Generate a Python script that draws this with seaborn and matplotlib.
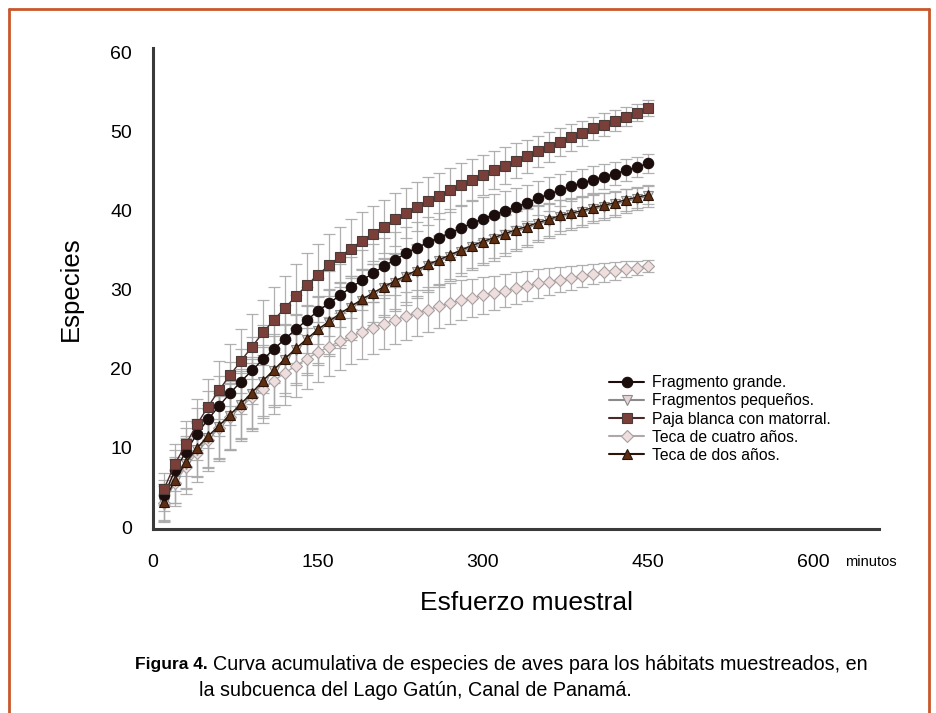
import matplotlib
matplotlib.use('Agg')
import matplotlib.pyplot as plt
from matplotlib.lines import Line2D
import pandas as pd
import seaborn as sns

sns.set_style("white")
plt.rcParams['font.family'] = ['Liberation Sans', 'DejaVu Sans']
plt.rcParams['text.color'] = 'black'
plt.rcParams['axes.labelcolor'] = 'black'
plt.rcParams['xtick.color'] = 'black'
plt.rcParams['ytick.color'] = 'black'

# minutos de esfuerzo (cada 10 min)
minutos = list(range(10, 451, 10))

grande = [4.0, 7.2, 9.5, 11.8, 13.6, 15.3, 16.9, 18.4, 19.8, 21.2, 22.5, 23.8, 25.0, 26.2, 27.3,
          28.3, 29.3, 30.3, 31.2, 32.1, 33.0, 33.8, 34.6, 35.3, 36.0, 36.6, 37.2, 37.8, 38.4, 39.0,
          39.5, 40.0, 40.5, 41.0, 41.6, 42.1, 42.6, 43.1, 43.5, 43.9, 44.3, 44.7, 45.1, 45.5, 46.0]
pequenos = [3.0, 5.8, 8.0, 9.8, 11.3, 12.6, 14.0, 15.4, 16.8, 18.3, 19.7, 21.1, 22.4, 23.6, 24.8,
            25.8, 26.8, 27.7, 28.6, 29.4, 30.2, 30.9, 31.6, 32.3, 33.0, 33.6, 34.2, 34.8, 35.4, 35.9,
            36.4, 36.9, 37.4, 37.8, 38.3, 38.7, 39.2, 39.5, 39.8, 40.2, 40.5, 40.8, 41.2, 41.5, 41.8]
paja = [4.8, 8.0, 10.5, 13.0, 15.2, 17.3, 19.2, 21.0, 22.8, 24.6, 26.2, 27.7, 29.2, 30.6, 31.9,
        33.1, 34.2, 35.2, 36.2, 37.1, 38.0, 38.9, 39.7, 40.5, 41.2, 41.9, 42.6, 43.3, 43.9, 44.5,
        45.1, 45.7, 46.3, 46.9, 47.5, 48.1, 48.7, 49.3, 49.8, 50.4, 50.9, 51.4, 51.9, 52.4, 53.0]
teca_cuatro = [3.0, 5.6, 7.6, 9.4, 11.0, 12.5, 13.9, 15.2, 16.4, 17.5, 18.5, 19.5, 20.4, 21.3, 22.1,
               22.8, 23.5, 24.1, 24.7, 25.2, 25.7, 26.2, 26.7, 27.1, 27.5, 27.9, 28.3, 28.7, 29.0, 29.3,
               29.6, 29.9, 30.2, 30.5, 30.8, 31.0, 31.3, 31.5, 31.7, 32.0, 32.2, 32.4, 32.6, 32.8, 33.0]
teca_dos = [3.2, 6.0, 8.2, 10.0, 11.5, 12.8, 14.2, 15.6, 17.0, 18.5, 19.9, 21.3, 22.6, 23.8, 25.0,
            26.0, 27.0, 27.9, 28.8, 29.6, 30.4, 31.1, 31.8, 32.5, 33.2, 33.8, 34.4, 35.0, 35.6, 36.1,
            36.6, 37.1, 37.6, 38.0, 38.5, 38.9, 39.4, 39.7, 40.0, 40.4, 40.7, 41.0, 41.4, 41.7, 42.0]

# desviaciones (barras de error)
err_grande = [2.0, 2.6, 3.0, 3.3, 3.6, 3.8, 4.0, 4.1, 4.2, 4.3, 4.3, 4.3, 4.3, 4.2, 4.2,
              4.1, 4.0, 3.9, 3.8, 3.7, 3.6, 3.5, 3.4, 3.3, 3.2, 3.1, 3.0, 2.9, 2.8, 2.7,
              2.6, 2.5, 2.4, 2.3, 2.2, 2.1, 2.0, 1.9, 1.8, 1.7, 1.6, 1.5, 1.4, 1.3, 1.2]
err_pequenos = [2.2, 2.8, 3.2, 3.5, 3.8, 4.0, 4.2, 4.3, 4.4, 4.5, 4.5, 4.5, 4.4, 4.4, 4.3,
                4.2, 4.1, 4.0, 3.9, 3.8, 3.7, 3.6, 3.5, 3.4, 3.3, 3.2, 3.1, 3.0, 2.9, 2.8,
                2.7, 2.6, 2.5, 2.4, 2.3, 2.2, 2.1, 2.0, 1.9, 1.8, 1.7, 1.6, 1.5, 1.4, 1.3]
err_paja = [2.0, 2.5, 2.9, 3.2, 3.5, 3.7, 3.9, 4.0, 4.1, 4.1, 4.1, 4.1, 4.0, 4.0, 3.9,
            3.9, 3.8, 3.7, 3.6, 3.5, 3.4, 3.3, 3.2, 3.1, 3.0, 2.9, 2.8, 2.7, 2.6, 2.5,
            2.4, 2.3, 2.2, 2.1, 2.0, 1.9, 1.8, 1.7, 1.6, 1.5, 1.4, 1.3, 1.2, 1.1, 1.0]
err_cuatro = [2.4, 3.0, 3.4, 3.7, 3.9, 4.1, 4.2, 4.3, 4.3, 4.3, 4.2, 4.1, 4.0, 3.9, 3.8,
              3.7, 3.6, 3.5, 3.4, 3.3, 3.2, 3.1, 3.0, 2.9, 2.8, 2.7, 2.6, 2.5, 2.4, 2.3,
              2.2, 2.1, 2.0, 1.9, 1.8, 1.7, 1.6, 1.5, 1.4, 1.3, 1.2, 1.1, 1.0, 0.9, 0.8]
err_dos = [2.3, 2.9, 3.3, 3.6, 3.9, 4.1, 4.3, 4.4, 4.5, 4.5, 4.5, 4.4, 4.4, 4.3, 4.2,
           4.1, 4.0, 3.9, 3.8, 3.7, 3.6, 3.5, 3.4, 3.3, 3.2, 3.1, 3.0, 2.9, 2.8, 2.7,
           2.6, 2.5, 2.4, 2.3, 2.2, 2.1, 2.0, 1.9, 1.8, 1.7, 1.6, 1.5, 1.4, 1.3, 1.2]

habitats = ["Fragmento grande.", "Fragmentos pequeños.", "Paja blanca con matorral.",
            "Teca de cuatro años.", "Teca de dos años."]

df = pd.DataFrame({
    "minutos": minutos,
    habitats[0]: grande, habitats[1]: pequenos, habitats[2]: paja,
    habitats[3]: teca_cuatro, habitats[4]: teca_dos,
})
errs = {habitats[0]: err_grande, habitats[1]: err_pequenos, habitats[2]: err_paja,
        habitats[3]: err_cuatro, habitats[4]: err_dos}

estilos = {
    habitats[0]: dict(marker='o', color='#1c0d0d', mfc='#1c0d0d', mec='#1c0d0d', ms=7.5),
    habitats[1]: dict(marker='v', color='#8a8a8a', mfc='#e4d6d6', mec='#8a8a8a', ms=7),
    habitats[2]: dict(marker='s', color='#4a2a28', mfc='#7b3f3a', mec='#4a3a38', ms=6.5),
    habitats[3]: dict(marker='D', color='#b0a8a8', mfc='#eedede', mec='#a8a0a0', ms=6.5),
    habitats[4]: dict(marker='^', color='#2a1508', mfc='#5e2e12', mec='#2a1508', ms=7),
}
orden = [habitats[3], habitats[1], habitats[4], habitats[0], habitats[2]]

fig = plt.figure(figsize=(9.36, 7.13), dpi=100)
ax = fig.add_axes([153 / 936, 1 - 529.4 / 713, 726 / 936, 481.6 / 713])

for h in orden:
    ax.errorbar(df["minutos"], df[h], yerr=errs[h], fmt='none', ecolor='#a8a8a8',
                elinewidth=0.9, capsize=4.5, capthick=0.9, alpha=0.9, zorder=1)

for h in orden:
    st = estilos[h]
    sns.lineplot(data=df, x="minutos", y=h, ax=ax, color=st['color'], marker=st['marker'],
                 markersize=st['ms'], markerfacecolor=st['mfc'], markeredgecolor=st['mec'],
                 markeredgewidth=0.8, linewidth=1.0, zorder=3)

ax.set_xlim(0, 660)
ax.set_ylim(-0.3, 60.6)
ax.set_xticks([0, 150, 300, 450, 600])
ax.set_xticklabels(["0", "150", "300", "450", "600"])
ax.set_yticks([0, 10, 20, 30, 40, 50, 60])
ax.tick_params(axis='both', labelsize=14, length=4, width=1, color='#555555')
ax.tick_params(axis='x', pad=14)
ax.tick_params(axis='y', pad=11)
for s in ['top', 'right']:
    ax.spines[s].set_visible(False)
for s in ['left', 'bottom']:
    ax.spines[s].set_color('#3a3a3a')
    ax.spines[s].set_linewidth(2.2)

ax.set_xlabel("Esfuerzo muestral", fontsize=19, labelpad=14)
ax.xaxis.label.set_x(0.514)
ax.set_ylabel("Especies", fontsize=18.5, labelpad=20)
ax.text(629, -4.4, "minutos", fontsize=10.5, ha='left', va='center', clip_on=False)

handles = []
for h in habitats:
    st = estilos[h]
    handles.append(Line2D([0], [0], color=st['color'], marker=st['marker'], markersize=st['ms'],
                          markerfacecolor=st['mfc'], markeredgecolor=st['mec'],
                          markeredgewidth=0.8, linewidth=1.5))
ax.legend(handles, habitats, loc='upper left', bbox_to_anchor=(603 / 936, 1 - 369 / 713),
          bbox_transform=fig.transFigure, frameon=False, fontsize=11.3, handlelength=2.2,
          handletextpad=0.5, labelspacing=0.2, borderaxespad=0)

fig.text(135 / 936, 1 - 665 / 713, "Figura 4.", fontsize=12.5, fontweight='bold',
         ha='left', va='center')
fig.text(213 / 936, 1 - 665 / 713,
         "Curva acumulativa de especies de aves para los hábitats muestreados, en",
         fontsize=14.2, ha='left', va='center')
fig.text(199 / 936, 1 - 690 / 713, "la subcuenca del Lago Gatún, Canal de Panamá.",
         fontsize=14.2, ha='left', va='center')

# marco
marco = '#c9572b'
fig.add_artist(Line2D([9 / 936, 9 / 936], [0, 1 - 9 / 713], transform=fig.transFigure,
                      color=marco, linewidth=2))
fig.add_artist(Line2D([9 / 936, 929 / 936], [1 - 9 / 713, 1 - 9 / 713], transform=fig.transFigure,
                      color=marco, linewidth=2))
fig.add_artist(Line2D([929 / 936, 929 / 936], [0, 1 - 9 / 713], transform=fig.transFigure,
                      color=marco, linewidth=2))

fig.savefig("out.png", dpi=100)
